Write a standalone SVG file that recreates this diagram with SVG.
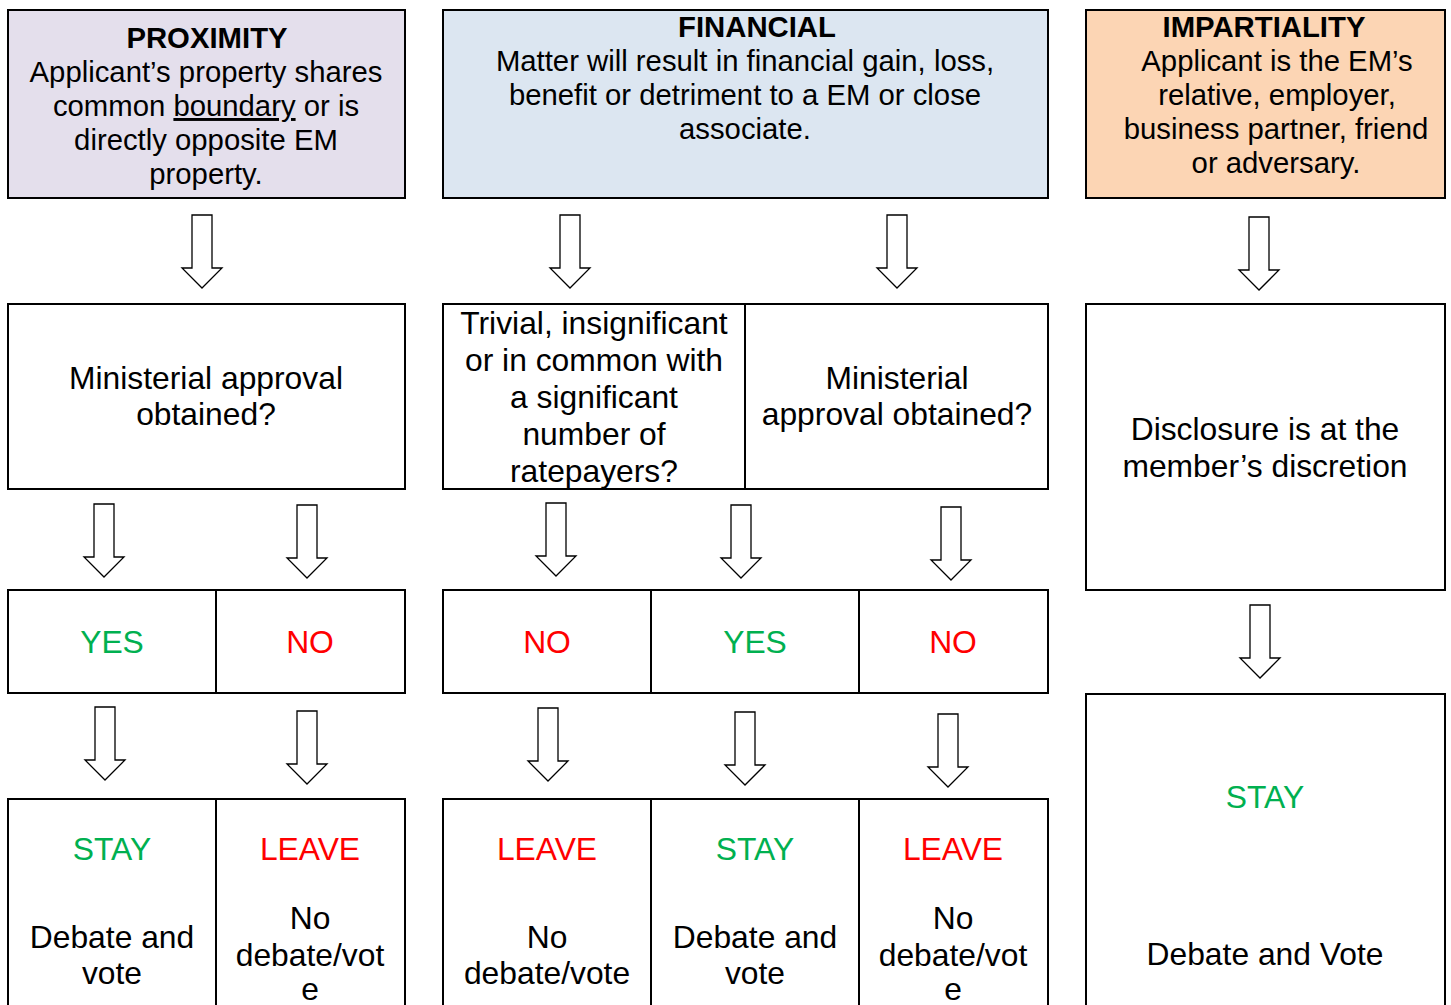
<svg xmlns="http://www.w3.org/2000/svg" width="1451" height="1005" viewBox="0 0 1451 1005">
<style>
text{font-family:"Liberation Sans",Arial,sans-serif;fill:#000;text-anchor:middle}
.h{font-size:29.3px}
.hb{font-size:29.3px;font-weight:bold}
.b{font-size:31.8px}
.g{fill:#00B050}
.r{fill:#FF0000}
.box{fill:#fff;stroke:#000;stroke-width:2}
.arr{fill:#fff;stroke:#000;stroke-width:1.3;stroke-linejoin:miter}
</style>
<defs>
<polygon id="ar" class="arr" points="-10,0 10,0 10,53 20,53 0,73 -20,53 -10,53"/>
</defs>

<g id="proximity-header">
<rect x="8" y="10" width="397" height="188" fill="#E4DFEC" stroke="#000" stroke-width="2"/>
<text class="hb" x="207" y="48">PROXIMITY</text>
<text class="h" x="206" y="82">Applicant’s property shares</text>
<text class="h" x="206" y="116">common <tspan text-decoration="underline">boundary</tspan> or is</text>
<text class="h" x="206" y="150">directly opposite EM</text>
<text class="h" x="206" y="184">property.</text>
</g>

<g id="financial-header">
<rect x="443" y="10" width="605" height="188" fill="#DCE6F1" stroke="#000" stroke-width="2"/>
<text class="hb" x="757" y="37">FINANCIAL</text>
<text class="h" x="745" y="71">Matter will result in financial gain, loss,</text>
<text class="h" x="745" y="105">benefit or detriment to a EM or close</text>
<text class="h" x="745" y="139">associate.</text>
</g>

<g id="impartiality-header">
<rect x="1086" y="10" width="359" height="188" fill="#FCD5B4" stroke="#000" stroke-width="2"/>
<text class="hb" x="1264" y="37">IMPARTIALITY</text>
<text class="h" x="1277" y="71">Applicant is the EM’s</text>
<text class="h" x="1277" y="105">relative, employer,</text>
<text class="h" x="1276" y="139">business partner, friend</text>
<text class="h" x="1276" y="173">or adversary.</text>
</g>

<g id="proximity-question">
<rect class="box" x="8" y="304" width="397" height="185"/>
<text class="b" x="206" y="389">Ministerial approval</text>
<text class="b" x="206" y="425">obtained?</text>
</g>

<g id="financial-trivial">
<rect class="box" x="443" y="304" width="302" height="185"/>
<text class="b" x="594" y="334">Trivial, insignificant</text>
<text class="b" x="594" y="371">or in common with</text>
<text class="b" x="594" y="408">a significant</text>
<text class="b" x="594" y="445">number of</text>
<text class="b" x="594" y="482">ratepayers?</text>
</g>

<g id="financial-question">
<rect class="box" x="745" y="304" width="303" height="185"/>
<text class="b" x="897" y="389">Ministerial</text>
<text class="b" x="897" y="425">approval obtained?</text>
</g>

<g id="impartiality-disclosure">
<rect class="box" x="1086" y="304" width="359" height="286"/>
<text class="b" x="1265" y="440">Disclosure is at the</text>
<text class="b" x="1265" y="477">member’s discretion</text>
</g>

<g id="prox-yes">
<rect class="box" x="8" y="590" width="208" height="103"/>
<text class="b g" x="112" y="653">YES</text>
</g>
<g id="prox-no">
<rect class="box" x="216" y="590" width="189" height="103"/>
<text class="b r" x="310" y="653">NO</text>
</g>
<g id="fin-no-1">
<rect class="box" x="443" y="590" width="208" height="103"/>
<text class="b r" x="547" y="653">NO</text>
</g>
<g id="fin-yes">
<rect class="box" x="651" y="590" width="208" height="103"/>
<text class="b g" x="755" y="653">YES</text>
</g>
<g id="fin-no-2">
<rect class="box" x="859" y="590" width="189" height="103"/>
<text class="b r" x="953" y="653">NO</text>
</g>

<g id="prox-stay">
<rect class="box" x="8" y="799" width="208" height="215"/>
<text class="b g" x="112" y="860">STAY</text>
<text class="b" x="112" y="948">Debate and</text>
<text class="b" x="112" y="984">vote</text>
</g>
<g id="prox-leave">
<rect class="box" x="216" y="799" width="189" height="215"/>
<text class="b r" x="310" y="860">LEAVE</text>
<text class="b" x="310" y="929">No</text>
<text class="b" x="310" y="966">debate/vot</text>
<text class="b" x="310" y="1000">e</text>
</g>
<g id="fin-leave-1">
<rect class="box" x="443" y="799" width="208" height="215"/>
<text class="b r" x="547" y="860">LEAVE</text>
<text class="b" x="547" y="948">No</text>
<text class="b" x="547" y="984">debate/vote</text>
</g>
<g id="fin-stay">
<rect class="box" x="651" y="799" width="208" height="215"/>
<text class="b g" x="755" y="860">STAY</text>
<text class="b" x="755" y="948">Debate and</text>
<text class="b" x="755" y="984">vote</text>
</g>
<g id="fin-leave-2">
<rect class="box" x="859" y="799" width="189" height="215"/>
<text class="b r" x="953" y="860">LEAVE</text>
<text class="b" x="953" y="929">No</text>
<text class="b" x="953" y="966">debate/vot</text>
<text class="b" x="953" y="1000">e</text>
</g>
<g id="imp-stay">
<rect class="box" x="1086" y="694" width="359" height="320"/>
<text class="b g" x="1265" y="808">STAY</text>
<text class="b" x="1265" y="965">Debate and Vote</text>
</g>

<g id="connectors">
<use href="#ar" x="202" y="215"/>
<use href="#ar" x="570" y="215"/>
<use href="#ar" x="897" y="215"/>
<use href="#ar" x="1259" y="217"/>
<use href="#ar" x="104" y="504"/>
<use href="#ar" x="307" y="505"/>
<use href="#ar" x="556" y="503"/>
<use href="#ar" x="741" y="505"/>
<use href="#ar" x="951" y="507"/>
<use href="#ar" x="105" y="707"/>
<use href="#ar" x="307" y="711"/>
<use href="#ar" x="548" y="708"/>
<use href="#ar" x="745" y="712"/>
<use href="#ar" x="948" y="714"/>
<use href="#ar" x="1260" y="605"/>
</g>
</svg>
